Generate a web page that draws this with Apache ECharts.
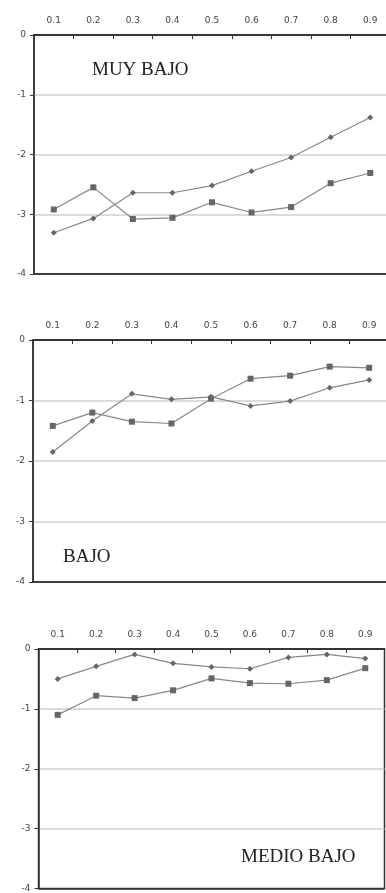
<!DOCTYPE html>
<html><head><meta charset="utf-8">
<script src="https://cdn.jsdelivr.net/npm/echarts@6/dist/echarts.min.js"></script>
<style>html,body{margin:0;padding:0;background:#fff;overflow:hidden}#c{width:394px;height:893px}</style>
</head><body><div id="c"></div>
<script>
const categories = ['0.1','0.2','0.3','0.4','0.5','0.6','0.7','0.8','0.9'];
const panelLabels = ['MUY BAJO','BAJO','MEDIO BAJO'];
// Panel 1: MUY BAJO
const muyBajoA = [-3.31,-3.07,-2.64,-2.64,-2.52,-2.28,-2.05,-1.71,-1.38];
const muyBajoB = [-2.92,-2.55,-3.08,-3.06,-2.80,-2.97,-2.88,-2.48,-2.31];
// Panel 2: BAJO
const bajoA = [-1.85,-1.34,-0.89,-0.98,-0.94,-1.09,-1.01,-0.79,-0.66];
const bajoB = [-1.42,-1.20,-1.35,-1.38,-0.97,-0.64,-0.59,-0.44,-0.46];
// Panel 3: MEDIO BAJO
const medioA = [-0.50,-0.29,-0.09,-0.24,-0.30,-0.33,-0.14,-0.09,-0.16];
const medioB = [-1.10,-0.78,-0.82,-0.69,-0.49,-0.57,-0.58,-0.52,-0.32];
const yTicks = {min:-4, max:0, interval:1};

const panels = [
  {a: muyBajoA, b: muyBajoB, grid:{left:34, top:35, width:356, height:239}},
  {a: bajoA, b: bajoB, grid:{left:33, top:340, width:356, height:242}},
  {a: medioA, b: medioB, grid:{left:38.5, top:649, width:346, height:240}}
];

const grids=[], xAxes=[], yAxes=[], series=[];
panels.forEach((p,i)=>{
  grids.push(Object.assign({show:true, borderColor:'#333', borderWidth:1.5, backgroundColor:'transparent', containLabel:false}, p.grid));
  xAxes.push({type:'category', gridIndex:i, position:'top', data:categories, boundaryGap:true,
    axisLine:{show:true, lineStyle:{color:'#333', width:1.5}},
    axisTick:{show:true, inside:true, length:4, lineStyle:{color:'#333'}},
    axisLabel:{color:'#444', fontSize:9, fontFamily:'DejaVu Sans', margin:10},
    splitLine:{show:false}});
  yAxes.push({type:'value', gridIndex:i, min:yTicks.min, max:yTicks.max, interval:yTicks.interval,
    axisLine:{show:true, lineStyle:{color:'#333', width:1.5}},
    axisTick:{show:true, inside:false, length:4, lineStyle:{color:'#333'}},
    axisLabel:{color:'#444', fontSize:9, fontFamily:'DejaVu Sans', margin:8},
    splitLine:{show:true, lineStyle:{color:['#333','#cfcfcf','#cfcfcf','#cfcfcf','#333'], width:1.5}}});
  series.push({type:'line', xAxisIndex:i, yAxisIndex:i, data:p.a, symbol:'diamond', symbolSize:6,
    itemStyle:{color:'#666'}, lineStyle:{color:'#888', width:1.2}, animation:false, z:3});
  series.push({type:'line', xAxisIndex:i, yAxisIndex:i, data:p.b, symbol:'rect', symbolSize:6,
    itemStyle:{color:'#666'}, lineStyle:{color:'#888', width:1.2}, animation:false, z:3});
});

const labelPos = [{left:92, top:61},{left:63, top:548},{left:241, top:848}];
const titles = panelLabels.map((t,i)=>({text:t, left:labelPos[i].left, top:labelPos[i].top, padding:0,
  textStyle:{fontFamily:'Liberation Serif', fontWeight:'normal', fontSize:19, color:'#222'}}));

const chart = echarts.init(document.getElementById('c'), null, {renderer:'canvas'});
chart.setOption({animation:false, backgroundColor:'#fff', title:titles, grid:grids, xAxis:xAxes, yAxis:yAxes, series:series});
</script></body></html>
